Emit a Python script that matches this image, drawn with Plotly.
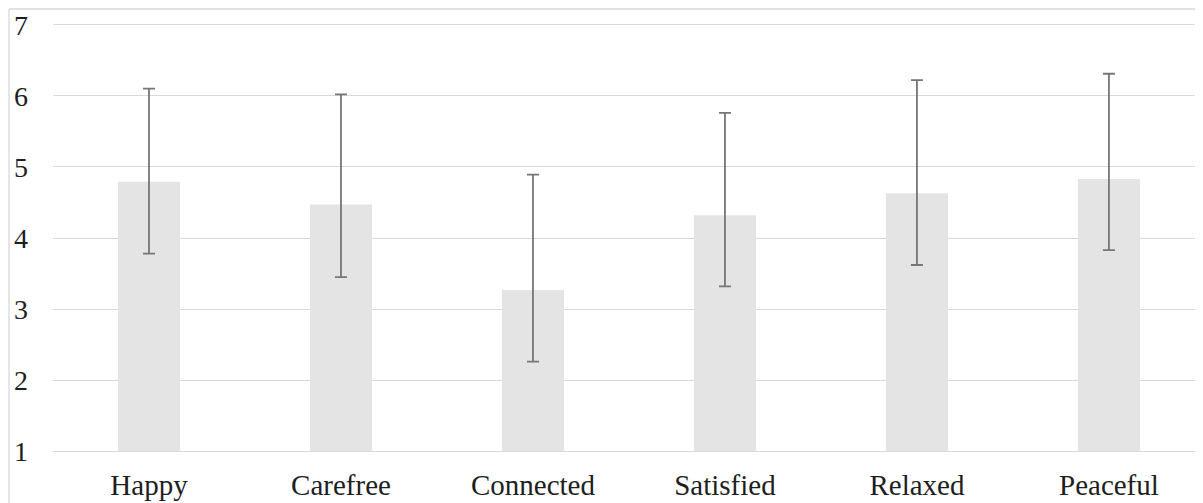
import plotly.graph_objects as go

categories = ["Happy", "Carefree", "Connected", "Satisfied", "Relaxed", "Peaceful"]
means = [4.79, 4.47, 3.27, 4.32, 4.63, 4.83]
upper = [6.10, 6.02, 4.89, 5.76, 6.22, 6.31]
lower = [3.78, 3.45, 2.26, 3.32, 3.62, 3.83]
y_ticks = [1, 2, 3, 4, 5, 6, 7]

err_plus = [u - m for u, m in zip(upper, means)]
err_minus = [m - l for m, l in zip(means, lower)]

# page has an 8px body margin, so the figure is slightly smaller than the window
W, H = 1195, 495
ml, mr, mt, mb = 45, 0, 15, 50

fig = go.Figure()
fig.add_trace(go.Bar(
    x=list(range(len(categories))),
    y=[m - 1 for m in means],
    base=1,
    width=0.323,
    marker=dict(color="#e4e4e4", line=dict(width=0)),
    error_y=dict(type="data", symmetric=False, array=err_plus, arrayminus=err_minus,
                 color="#767676", thickness=1.8, width=6),
    hoverinfo="skip",
))

pw = W - ml - mr
ph = H - mt - mb
bx = (1 - ml) / pw
by = (H - mb - 1) / ph

fig.update_layout(
    width=W, height=H,
    margin=dict(l=ml, r=mr, t=mt, b=mb, pad=0, autoexpand=False),
    paper_bgcolor="white", plot_bgcolor="white",
    showlegend=False,
    font=dict(family="Liberation Serif, Times New Roman, serif", size=28, color="#1e1e1e"),
    xaxis=dict(
        tickmode="array", tickvals=list(range(len(categories))), ticktext=categories,
        tickfont=dict(size=29),
        range=[-0.5, 5.49], showgrid=False, zeroline=False, showline=False,
        ticks="", ticklabelstandoff=12, fixedrange=True, automargin=False,
    ),
    yaxis=dict(
        range=[0.976, 7.024], tickmode="array", tickvals=y_ticks,
        showgrid=True, gridcolor="#d9d9d9", gridwidth=1.3, zeroline=False,
        showline=False, ticks="", ticklabelstandoff=24, fixedrange=True, automargin=False,
    ),
    shapes=[
        dict(type="line", xref="paper", yref="paper", x0=bx, x1=bx, y0=-0.2, y1=by,
             line=dict(color="#d9d9d9", width=1.3)),
        dict(type="line", xref="paper", yref="paper", x0=bx, x1=1.05, y0=by, y1=by,
             line=dict(color="#d9d9d9", width=1.3)),
    ],
)

fig.write_html("out.html")
